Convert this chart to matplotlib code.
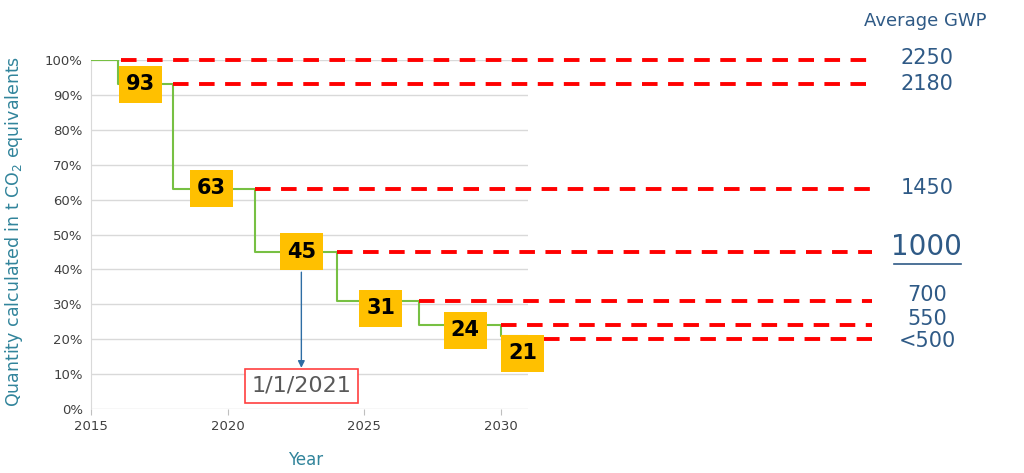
import matplotlib.pyplot as plt
from matplotlib.patches import Rectangle

# ============ DATA ============
step_years = [2015, 2016, 2018, 2021, 2024, 2027, 2030, 2031]
step_share = [100, 93, 63, 45, 31, 24, 21, 21]

label_text = ['93', '63', '45', '31', '24', '21']
label_x    = [2016.8, 2019.4, 2022.7, 2025.6, 2028.7, 2030.8]
label_y    = [93.0, 63.2, 45.0, 28.8, 22.6, 16.0]

limit_start = [2016.1, 2018.0, 2021.0, 2024.0, 2027.0, 2030.0, 2031.6]
limit_share = [100, 93, 63, 45, 31, 24, 20]
limit_end   = 2043.6

gwp_labels = ['2250', '2180', '1450', '1000', '700', '550', '<500']
gwp_y      = [100.5, 93.0, 63.3, 46.5, 32.7, 25.8, 19.5]

event_year = 2022.7
event_text = '1/1/2021'

# ============ STYLE ============
TEAL   = '#31849B'
NAVY   = '#2F5A86'
GREEN  = '#77C043'
RED    = '#FF0000'
YELLOW = '#FFC000'
GREY   = '#404040'

fig = plt.figure(figsize=(10.24, 4.73), dpi=100)
ax = fig.add_axes([0.0889, 0.1353, 0.4268, 0.7378])

ax.set_xlim(2015, 2031)
ax.set_ylim(0, 100)
ax.set_yticks(range(0, 101, 10))
ax.set_yticklabels([f'{v}%' for v in range(0, 101, 10)])
ax.set_xticks([2015, 2020, 2025, 2030])
ax.tick_params(axis='y', length=0, labelsize=9.5, labelcolor=GREY, pad=6)
ax.tick_params(axis='x', length=4, color='#BFBFBF', labelsize=9.5,
               labelcolor=GREY, pad=4)
ax.grid(axis='y', color='#D9D9D9', linewidth=1)
ax.set_axisbelow(True)
for side in ['top', 'right', 'bottom']:
    ax.spines[side].set_visible(False)
ax.spines['left'].set_color('#D9D9D9')

# step curve
ax.step(step_years, step_share, where='post', color=GREEN, linewidth=1.5,
        zorder=3)

# red dashed limits, running out past the plot area
for x0, y0 in zip(limit_start, limit_share):
    ax.plot([x0, limit_end], [y0, y0], color=RED, linewidth=2.8,
            linestyle=(0, (4.0, 2.7)), clip_on=False, zorder=4)

# yellow number boxes
BOX_W, BOX_H = 1.58, 10.6
for t, x, y in zip(label_text, label_x, label_y):
    ax.add_patch(Rectangle((x - BOX_W / 2, y - BOX_H / 2), BOX_W, BOX_H,
                           facecolor=YELLOW, edgecolor='none',
                           clip_on=False, zorder=5))
    ax.text(x, y, t, ha='center', va='center', fontsize=15,
            fontweight='bold', color='black', zorder=6)

# event arrow + date box
ax.annotate('', xy=(event_year, 11.0), xytext=(event_year, 40.0),
            arrowprops=dict(arrowstyle='-|>', color='#2E6DA4', lw=1,
                            mutation_scale=10), zorder=4)
ax.text(event_year, 6.6, event_text, ha='center', va='center', fontsize=16,
        color='#595959', zorder=6,
        bbox=dict(boxstyle='square,pad=0.3', facecolor='white',
                  edgecolor='#FF4040', linewidth=1.2))

ax.set_xlabel('Year', color=TEAL, fontsize=12)
ax.xaxis.set_label_coords(0.49, -0.12)
ax.set_ylabel('Quantity calculated in t CO$_2$ equivalents', color=TEAL,
              fontsize=12.5)
ax.yaxis.set_label_coords(-0.152, 0.51)

# GWP column on the right
fig.text(0.904, 0.955, 'Average GWP', ha='center', va='center',
         fontsize=13, color=NAVY)
for t, y in zip(gwp_labels, gwp_y):
    big = t == '1000'
    ax.text(2045.6, y, t, ha='center', va='center', clip_on=False,
            fontsize=20 if big else 15, color=NAVY)
    if big:
        ax.plot([2044.4, 2046.85], [y - 5.0, y - 5.0], color=NAVY,
                linewidth=1.2, clip_on=False)

fig.savefig('out.png', dpi=100)
